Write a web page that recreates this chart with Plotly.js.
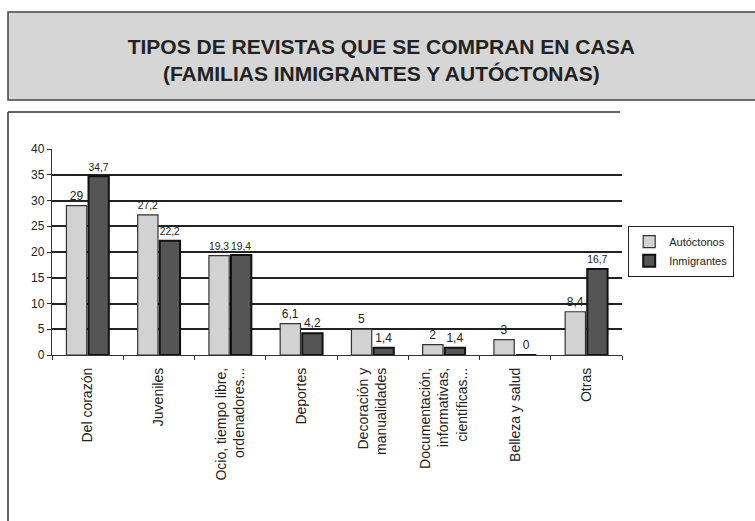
<!DOCTYPE html>
<html><head><meta charset="utf-8">
<script src="https://cdn.plot.ly/plotly-3.0.1.min.js"></script>
<style>html,body{margin:0;padding:0;background:#fff}#c{width:755px;height:521px}</style>
</head><body><div id="c"></div>
<script>
const categories = ["Del corazón","Juveniles","Ocio, tiempo libre,<br>ordenadores...","Deportes","Decoración y<br>manualidades","Documentación,<br>informativas,<br>científicas...","Belleza y salud","Otras"];
const autoctonos = [29, 27.2, 19.3, 6.1, 5, 2, 3, 8.4];
const inmigrantes = [34.7, 22.2, 19.4, 4.2, 1.4, 1.4, 0, 16.7];
const yTicks = [0,5,10,15,20,25,30,35,40];

const L=52, R=622, T=149, B=355;
const px = v => (v - L)/(R - L);
const py = v => (B - v)/(B - T);
const fmt = v => String(v).replace('.', ',');

const traces = [
  {type:'bar', name:'Autóctonos', x:categories, y:autoctonos, text:autoctonos.map(fmt),
   textposition:'outside', cliponaxis:false, textfont:{size:12,color:'#222'},
   marker:{color:'#d2d2d2', line:{color:'#333', width:1.2}}},
  {type:'bar', name:'Inmigrantes', x:categories, y:inmigrantes, text:inmigrantes.map(fmt),
   textposition:'outside', cliponaxis:false, textfont:{size:12,color:'#222'},
   marker:{color:'#555555', line:{color:'#111', width:2}}}
];

const layout = {
  width:755, height:521,
  margin:{l:L, r:755-R, t:T, b:521-B},
  paper_bgcolor:'#fff', plot_bgcolor:'#fff',
  font:{family:'Liberation Sans, Arial, sans-serif', color:'#222'},
  separators:',.',
  barmode:'group', bargap:0.38, bargroupgap:0.08,
  title:{text:'TIPOS DE REVISTAS QUE SE COMPRAN EN CASA<br>(FAMILIAS INMIGRANTES Y AUTÓCTONAS)',
    x:0.505, xanchor:'center', y:1-54/521, yanchor:'middle',
    font:{size:21, family:'Liberation Sans, Arial, sans-serif', color:'#222', weight:'bold'}},
  xaxis:{type:'category', tickangle:-90, tickfont:{size:14}, showline:true, linecolor:'#333', linewidth:1.2,
    ticks:'outside', tickson:'boundaries', ticklen:4, tickcolor:'#333', ticklabelstandoff:6,
    showgrid:false, automargin:false},
  yaxis:{range:[0,40], tickvals:yTicks, ticktext:yTicks.map(String), showline:true, linecolor:'#333', linewidth:1.2,
    ticks:'outside', ticklen:4, tickcolor:'#333', tickfont:{size:12},
    showgrid:true, gridcolor:'#222', gridwidth:2, zeroline:false, automargin:false},
  legend:{x:px(628), y:py(226), xanchor:'left', yanchor:'top', bordercolor:'#222', borderwidth:1.2,
    bgcolor:'#fff', font:{size:11}, tracegroupgap:2, itemwidth:30},
  showlegend:true,
  shapes:[
    {type:'rect', xref:'paper', yref:'paper', x0:px(8), x1:px(760), y0:py(100), y1:py(12),
     fillcolor:'#d6d6d6', line:{color:'#444', width:1.5}, layer:'below'},
    {type:'line', xref:'paper', yref:'paper', x0:px(8), x1:px(8), y0:py(112), y1:py(521),
     line:{color:'#333', width:1.5}},
    {type:'line', xref:'paper', yref:'paper', x0:px(8), x1:px(620), y0:py(112), y1:py(112),
     line:{color:'#333', width:1.5}}
  ]
};
Plotly.newPlot('c', traces, layout, {displayModeBar:false, staticPlot:true});
</script></body></html>
